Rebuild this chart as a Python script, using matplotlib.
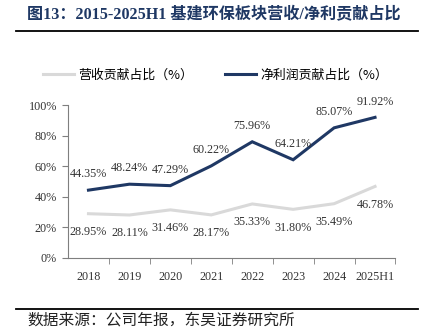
import matplotlib.pyplot as plt
from matplotlib.lines import Line2D

years = ["2018", "2019", "2020", "2021", "2022", "2023", "2024", "2025H1"]
revenue_share = [28.95, 28.11, 31.46, 28.17, 35.33, 31.80, 35.49, 46.78]
profit_share = [44.35, 48.24, 47.29, 60.22, 75.96, 64.21, 85.07, 91.92]

NAVY = "#1F3864"
GREY = "#D9D9D9"
SERIF = ["Liberation Serif", "Noto Sans CJK SC"]
CJK = ["Noto Sans CJK SC", "DejaVu Sans"]

fig = plt.figure(figsize=(4.31, 3.29), dpi=100)
ax = fig.add_axes([68 / 431, 1 - 258 / 329, 327.5 / 431, 153 / 329])

x = list(range(len(years)))
ax.plot(x, revenue_share, color=GREY, lw=2.2, solid_joinstyle="miter")
ax.plot(x, profit_share, color=NAVY, lw=2.2, solid_joinstyle="miter")

for i in x:
    ax.annotate(f"{profit_share[i]:.2f}%", (i, profit_share[i]), xytext=(0, 7),
                textcoords="offset points", ha="center", va="bottom",
                fontsize=8.7, family=SERIF, color="#333333")
    ax.annotate(f"{revenue_share[i]:.2f}%", (i, revenue_share[i]), xytext=(0, -9),
                textcoords="offset points", ha="center", va="top",
                fontsize=8.7, family=SERIF, color="#333333")

ax.set_xlim(-0.5, len(years) - 0.5)
ax.set_ylim(0, 100)
ax.set_yticks(range(0, 101, 20))
ax.set_yticklabels([f"{v}%" for v in range(0, 101, 20)], family=SERIF, fontsize=8.7, color="#333333")
ax.set_xticks(x)
ax.set_xticklabels(years, family=SERIF, fontsize=8.7, color="#333333")
ax.set_xticks([i + 0.5 for i in x], minor=True)
ax.tick_params(axis="x", which="major", length=0, pad=9)
ax.tick_params(axis="x", which="minor", length=4, color="#7F7F7F", direction="out")
ax.tick_params(axis="y", length=4, color="#7F7F7F", direction="out", pad=4)

for side in ["top", "right"]:
    ax.spines[side].set_visible(False)
for side in ["left", "bottom"]:
    ax.spines[side].set_color("#7F7F7F")
    ax.spines[side].set_linewidth(0.8)

handles = [Line2D([], [], color=GREY, lw=2.2), Line2D([], [], color=NAVY, lw=2.2)]
fig.legend(handles, ["营收贡献占比（%）", "净利润贡献占比（%）"], loc="center",
           bbox_to_anchor=(0.5, 1 - 75 / 329), ncol=2, frameon=False,
           prop={"family": CJK, "size": 9.3}, handlelength=2.4, columnspacing=2.4,
           handletextpad=0.4)

fig.text(27 / 431, 1 - 15 / 329, "图13：2015-2025H1 基建环保板块营收/净利贡献占比",
         family=SERIF, fontsize=11.6, fontweight="bold", color=NAVY, va="center")
fig.add_artist(Line2D([16 / 431, 418 / 431], [1 - 31 / 329] * 2, color="black", lw=1.3))
fig.add_artist(Line2D([16 / 431, 418 / 431], [1 - 309 / 329] * 2, color="black", lw=1.3))
fig.text(27 / 431, 1 - 320 / 329, "数据来源：公司年报，东吴证券研究所",
         family=CJK, fontsize=11.3, color="#222222", va="center")

fig.savefig("out.png", dpi=100)
